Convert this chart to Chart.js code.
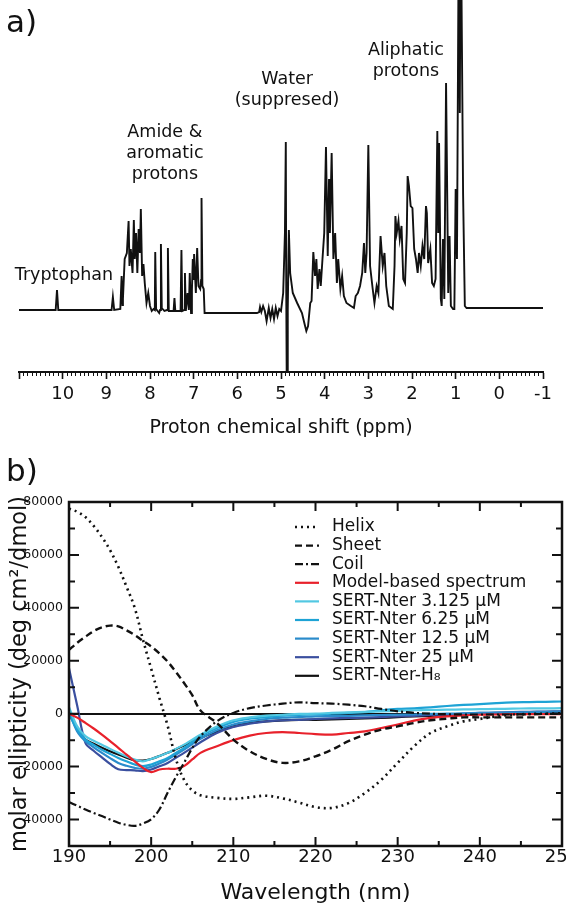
<!DOCTYPE html>
<html>
<head>
<meta charset="utf-8">
<script src="https://cdn.jsdelivr.net/npm/chart.js@4.4.0/dist/chart.umd.min.js"></script>
<style>
  body { margin: 0; background: #fff; }
  #page { position: relative; width: 566px; height: 909px; overflow: hidden; }
  canvas { position: absolute; left: 0; }
  .panel { position: absolute; left: 6px; font: 31px 'DejaVu Sans', Verdana, sans-serif; line-height: 1; color: #111; z-index: 2; }
</style>
</head>
<body>
<div id="page">
  <canvas id="nmr" width="566" height="450" style="top:0;width:566px;height:450px"></canvas>
  <canvas id="cd" width="566" height="459" style="top:450px;width:566px;height:459px"></canvas>
  <div class="panel" style="top:6px">a)</div>
  <div class="panel" style="top:455px">b)</div>
</div>
<script>
// ── Panel a: 1H NMR spectrum ──────────────────────────────

const nmrPpm = [
  11.0, 10.16, 10.13, 10.10, 8.88, 8.85, 8.82, 8.68, 8.65, 8.63, 8.62, 8.58, 8.53, 8.49, 8.47, 8.44,
  8.40, 8.37, 8.35, 8.32, 8.29, 8.26, 8.23, 8.21, 8.18, 8.15, 8.12, 8.08, 8.04, 8.00, 7.96, 7.92,
  7.89, 7.88, 7.86, 7.79, 7.77, 7.75, 7.73, 7.67, 7.61, 7.59, 7.57, 7.46, 7.44, 7.42, 7.30, 7.28,
  7.26, 7.21, 7.20, 7.18, 7.14, 7.11, 7.09, 7.06, 7.04, 7.02, 7.00, 6.99, 6.95, 6.92, 6.89, 6.85,
  6.83, 6.82, 6.80, 6.77, 6.75, 5.55, 5.50, 5.48, 5.45, 5.41, 5.37, 5.33, 5.28, 5.24, 5.20, 5.16,
  5.12, 5.08, 5.04, 5.00, 4.95, 4.91, 4.89, 4.88, 4.87, 4.86, 4.85, 4.84, 4.82, 4.79, 4.73, 4.63,
  4.52, 4.46, 4.42, 4.38, 4.33, 4.30, 4.26, 4.22, 4.19, 4.16, 4.12, 4.09, 4.05, 4.01, 3.97, 3.93,
  3.90, 3.88, 3.84, 3.80, 3.76, 3.72, 3.69, 3.64, 3.60, 3.56, 3.50, 3.40, 3.33, 3.29, 3.24, 3.19,
  3.14, 3.10, 3.07, 3.04, 3.00, 2.96, 2.90, 2.86, 2.81, 2.77, 2.72, 2.67, 2.63, 2.59, 2.53, 2.44,
  2.40, 2.38, 2.35, 2.31, 2.28, 2.24, 2.20, 2.16, 2.12, 2.10, 2.07, 2.03, 1.99, 1.95, 1.91, 1.87,
  1.84, 1.80, 1.76, 1.72, 1.68, 1.66, 1.63, 1.58, 1.54, 1.50, 1.46, 1.42, 1.40, 1.38, 1.34, 1.32,
  1.29, 1.26, 1.22, 1.17, 1.14, 1.11, 1.06, 1.03, 1.00, 0.97, 0.925, 0.905, 0.885, 0.83, 0.79, 0.75,
  -1.0
];
const nmrIntensity = [
  0, 0, 20, 0, 0, 13, 0, 1, 34, 5, 11, 51, 57, 89, 44, 61,
  37, 90, 51, 77, 37, 81, 57, 101, 34, 46, 27, 7, 17, 4, -1, 1,
  0, 58, 1, -3, 0, 66, 2, -1, 0, 62, -1, -1, 12, -1, -1, 60,
  -1, 0, 37, -1, 17, 0, 37, -3, 20, 51, 30, 56, 17, 62, 24, 21,
  30, 112, 24, 21, -3, -3, -2, 3, -2, 4, -1, -11, 2, -8, 1, -9,
  2, -6, 1, -1, 17, 77, 168, 20, -62, -62, -10, 1, 80, 37, 17, 7,
  -3, -14, -21, -16, 7, 9, 58, 34, 51, 21, 41, 24, 51, 77, 163, 54,
  131, 77, 157, 51, 77, 27, 51, 21, 34, 14, 7, 4, 2, 14, 17, 24,
  37, 67, 37, 57, 165, 44, 21, 7, 24, 17, 74, 44, 57, 24, 4, 1,
  44, 94, 77, 89, 71, 84, 31, 27, 77, 134, 124, 104, 102, 61, 51, 37,
  57, 44, 64, 51, 104, 97, 47, 61, 27, 24, 31, 179, 77, 167, 11, 4,
  71, 11, 227, 17, 74, 4, 1, 1, 121, 51, 420, 197, 420, 116, 4, 2,
  2
];

const nmrLabels = [
  { ppm: 9.97, level: 35, lines: ['Tryptophan'] },
  { ppm: 7.66, level: 178, lines: ['Amide &', 'aromatic', 'protons'] },
  { ppm: 4.86, level: 231, lines: ['Water', '(suppresed)'] },
  { ppm: 2.14, level: 260, lines: ['Aliphatic', 'protons'] },
];

// ── Panel b: CD spectra ───────────────────────────────────

const wavelength = [190, 191, 192, 193, 194, 195, 196, 197, 198, 199, 200, 201, 202, 203, 204, 205, 206,
  208, 210, 212, 214, 216, 218, 220, 222, 224, 226, 228, 230, 232, 234, 236, 238, 240, 242, 244, 246, 248, 250];

const helix = [77500, 76300, 74300, 71000, 66800, 61800, 55500, 48000, 40000, 28000, 17000, 6000, -4500, -17000, -25000, -29000, -30800,
  -31800, -32200, -31600, -31000, -32000, -33600, -35300, -35600, -33800, -30000, -25000, -18600, -12300, -7300, -4800, -2900, -2000, -1000, -400, -100, 0, 200];
const sheet = [24100, 26800, 29100, 31200, 32600, 33300, 33000, 31500, 29700, 27500, 25400, 22800, 19700, 15800, 11600, 7000, 1200,
  -3500, -9800, -14200, -17100, -18600, -18000, -16100, -13600, -10400, -7900, -6000, -4800, -3500, -2500, -1900, -1400, -1400, -1400, -1400, -1400, -1400, -1400];
const coil = [-33400, -34800, -36200, -37500, -38700, -40000, -41200, -42000, -42400, -41500, -39900, -36200, -29900, -24000, -18600, -13000, -8500,
  -2900, 300, 2100, 3100, 3800, 4300, 4000, 3800, 3400, 2800, 1800, 900, 300, 0, -200, -300, -300, -300, -300, -200, -100, -100];
const modelBased = [0, -1500, -3500, -5600, -7900, -10400, -12900, -15500, -18000, -20500, -22100, -21100, -20800, -20800, -19800, -17300, -14800,
  -12300, -10000, -8300, -7300, -7000, -7300, -7700, -7900, -7300, -6700, -5400, -4100, -2600, -1600, -1000, -600, -400, -300, -200, -200, -200, -200];
const sert3125 = [2500, -4800, -8500, -10200, -11700, -13300, -14800, -16200, -17300, -18000, -17100, -16000, -14800, -13300, -11700, -9800, -7900,
  -4800, -2500, -1400, -700, -400, -100, 0, 300, 500, 700, 900, 1100, 1300, 1400, 1500, 1600, 1700, 1800, 1900, 2000, 2000, 2100];
const sert625 = [0, -6000, -9800, -11800, -13600, -15200, -16700, -18000, -19200, -19800, -19200, -18000, -16700, -14800, -12900, -10700, -8500,
  -5400, -3100, -1900, -1300, -700, -500, -300, 0, 300, 600, 1300, 1800, 2000, 2400, 2900, 3300, 3600, 4000, 4300, 4400, 4500, 4600];
const sert125 = [900, -6700, -10400, -12700, -14800, -16800, -18600, -19700, -20500, -20800, -20100, -18800, -17300, -15500, -13600, -11500, -9500,
  -6300, -4100, -2900, -2000, -1500, -1300, -1000, -900, -800, -600, -500, -400, -300, -100, 0, 100, 300, 400, 500, 600, 700, 800];
const sert25 = [17200, 3000, -11000, -14000, -16500, -19000, -21000, -21300, -21400, -21700, -21100, -19900, -18600, -16700, -14800, -12800, -10800,
  -7300, -5000, -3800, -2900, -2500, -2300, -2000, -1800, -1600, -1500, -1300, -1000, -800, -500, -300, 0, 300, 400, 600, 700, 800, 900];
const sertH8 = [0, -5500, -9800, -11400, -12900, -14200, -15400, -16600, -17600, -17700, -17100, -16000, -14800, -13400, -12000, -10600, -9200,
  -6700, -4800, -3500, -2900, -2500, -2300, -2300, -2200, -2000, -1800, -1600, -1300, -1000, -800, -500, -300, -100, 0, 100, 200, 200, 300];

const FONT = "'DejaVu Sans', Verdana, sans-serif";
Chart.defaults.font.family = FONT;
Chart.defaults.color = '#111';

function isWhole(v, step) {
  const q = v / step;
  return Math.abs(q - Math.round(q)) < 1e-6;
}

// keep the plot edges where the layout padding puts them
function noEdgePadding(s) {
  s.paddingLeft = 0; s.paddingRight = 0;
  s.paddingTop = 0; s.paddingBottom = 0;
}

// labels that sit above the NMR peak groups, placed in data units
const nmrLabelPlugin = {
  id: 'nmrLabels',
  afterDraw(chart) {
    const { ctx, scales: { x, y } } = chart;
    ctx.save();
    ctx.font = '17.5px ' + FONT;
    ctx.fillStyle = '#111';
    ctx.textAlign = 'center';
    ctx.textBaseline = 'middle';
    nmrLabels.forEach(l => {
      const px = x.getPixelForValue(l.ppm);
      const py = y.getPixelForValue(l.level);
      l.lines.forEach((t, i) => ctx.fillText(t, px, py + i * 21));
    });
    ctx.restore();
  }
};

new Chart(document.getElementById('nmr'), {
  type: 'line',
  data: {
    datasets: [{
      data: nmrPpm.map((p, i) => ({ x: p, y: nmrIntensity[i] })),
      borderColor: '#111',
      borderWidth: 1.9,
      pointRadius: 0,
      tension: 0,
      fill: false,
    }]
  },
  options: {
    responsive: false,
    animation: false,
    devicePixelRatio: 1,
    layout: { padding: { left: 19, right: 23, top: 0, bottom: 0 } },
    plugins: { legend: { display: false }, tooltip: { enabled: false } },
    scales: {
      x: {
        type: 'linear', reverse: true, min: -1, max: 11,
        afterFit: s => { s.height = 78; noEdgePadding(s); },
        border: { display: true, color: '#111', width: 2 },
        grid: {
          drawOnChartArea: false,
          tickLength: 7,
          tickColor: '#111',
          tickWidth: c => isWhole(c.tick.value, 1) ? 1.6 : 1,
          tickBorderDash: c => isWhole(c.tick.value, 1) ? [] : [3, 20],
        },
        ticks: {
          stepSize: 0.1, autoSkip: false, maxRotation: 0, minRotation: 0, padding: 5,
          font: { size: 18 }, color: '#111',
          callback: v => (isWhole(v, 1) && v < 10.5) ? String(Math.round(v)) : '',
        },
        title: { display: true, text: 'Proton chemical shift (ppm)', font: { size: 19 }, color: '#111', padding: { top: 0, bottom: 11 } }
      },
      y: { display: false, min: -62, max: 310 }
    }
  },
  plugins: [nmrLabelPlugin]
});

// ── CD chart helpers ──────────────────────────────────────

// frame with inward ticks on all four sides, taken from the scales
const frameTicks = {
  id: 'frameTicks',
  afterDraw(chart) {
    const { ctx, chartArea: a, scales: { x, y } } = chart;
    ctx.save();
    ctx.strokeStyle = '#111';
    ctx.lineWidth = 2;
    ctx.beginPath();
    x.ticks.forEach(t => {
      const px = x.getPixelForValue(t.value);
      const len = isWhole(t.value, 10) ? 9 : 5;
      ctx.moveTo(px, a.bottom); ctx.lineTo(px, a.bottom - len);
      ctx.moveTo(px, a.top); ctx.lineTo(px, a.top + len);
    });
    y.ticks.forEach(t => {
      const py = y.getPixelForValue(t.value);
      const len = isWhole(t.value, 20000) ? 10 : 6;
      ctx.moveTo(a.left, py); ctx.lineTo(a.left + len, py);
      ctx.moveTo(a.right, py); ctx.lineTo(a.right - len, py);
    });
    ctx.stroke();
    ctx.lineWidth = 2.5;
    ctx.strokeRect(a.left, a.top, a.right - a.left, a.bottom - a.top);
    ctx.restore();
  }
};

// legend drawn inside the plot, top right
const insideLegend = {
  id: 'insideLegend',
  afterDraw(chart) {
    const { ctx } = chart;
    ctx.save();
    ctx.font = '17px ' + FONT;
    ctx.textBaseline = 'middle';
    chart.data.datasets.forEach((ds, i) => {
      const yy = 77 + i * 18.6;
      ctx.strokeStyle = ds.borderColor;
      ctx.lineWidth = ds.borderWidth;
      ctx.setLineDash(ds.borderDash || []);
      ctx.beginPath();
      ctx.moveTo(295, yy); ctx.lineTo(319, yy);
      ctx.stroke();
      ctx.setLineDash([]);
      ctx.fillStyle = '#111';
      ctx.fillText(ds.label, 332, yy);
    });
    ctx.restore();
  }
};

function series(label, values, color, dash, width) {
  return {
    label,
    data: values,
    borderColor: color,
    borderWidth: width || 2.2,
    borderDash: dash || [],
    pointRadius: 0,
    tension: 0.35,
    fill: false,
  };
}

new Chart(document.getElementById('cd'), {
  type: 'line',
  data: {
    labels: wavelength,
    datasets: [
      series('Helix', helix, '#111', [2, 4], 2.6),
      series('Sheet', sheet, '#111', [7, 4], 2.4),
      series('Coil', coil, '#111', [8, 3, 2, 3], 2.2),
      series('Model-based spectrum', modelBased, '#e8212b'),
      series('SERT-Nter 3.125 μM', sert3125, '#52c8e2'),
      series('SERT-Nter 6.25 μM', sert625, '#1ea3d5'),
      series('SERT-Nter 12.5 μM', sert125, '#2a8bcb'),
      series('SERT-Nter 25 μM', sert25, '#3a4f9f'),
      series('SERT-Nter-H₈', sertH8, '#111'),
    ]
  },
  options: {
    responsive: false,
    animation: false,
    devicePixelRatio: 1,
    layout: { padding: { left: 0, right: 4, top: 52, bottom: 0 } },
    plugins: { legend: { display: false }, tooltip: { enabled: false } },
    scales: {
      x: {
        type: 'linear', min: 190, max: 250,
        afterFit: s => { s.height = 63; noEdgePadding(s); },
        border: { display: false },
        grid: { display: false, drawTicks: false },
        ticks: {
          stepSize: 5, autoSkip: false, maxRotation: 0, padding: 1,
          font: { size: 18 }, color: '#111',
          callback: v => isWhole(v, 10) ? String(v) : '',
        },
        title: { display: true, text: 'Wavelength (nm)', font: { size: 22 }, color: '#111', padding: { top: 0, bottom: 3 } }
      },
      y: {
        min: -50000, max: 80000,
        afterFit: s => { s.width = 69; noEdgePadding(s); },
        border: { display: false },
        grid: {
          drawTicks: false,
          color: c => c.tick && c.tick.value === 0 ? '#111' : 'rgba(0,0,0,0)',
          lineWidth: 2,
        },
        ticks: {
          stepSize: 10000, autoSkip: false, padding: 6,
          font: { size: 12.5 }, color: '#111',
          callback: v => (isWhole(v, 20000) && v > -45000) ? String(v) : '',
        },
        title: { display: true, text: 'molar ellipticity (deg cm²/dmol)', font: { size: 22.5 }, color: '#111', padding: { top: 7, bottom: 0 } }
      }
    }
  },
  plugins: [frameTicks, insideLegend]
});
</script>
</body>
</html>
